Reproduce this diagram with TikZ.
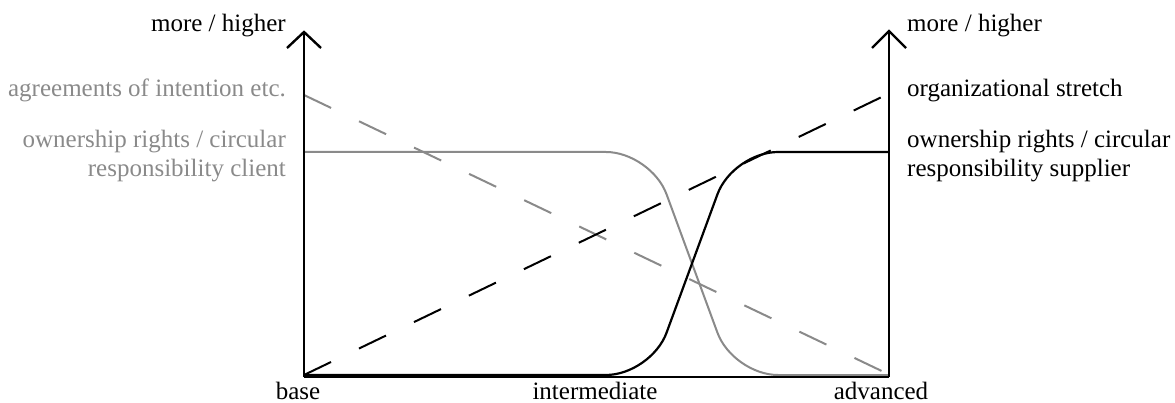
\documentclass[tikz,border=0pt]{standalone}
\usepackage{fontspec}
\setmainfont{Liberation Serif}
\definecolor{lgray}{RGB}{138,138,138}
\begin{document}
\begin{tikzpicture}[x=1pt,y=-1pt,
  lbl/.style={inner sep=0pt,font=\fontsize{25}{29}\selectfont},
  glbl/.style={lbl,text=lgray},
  axis/.style={line width=2.4pt,black},
  graycurve/.style={line width=2pt,lgray,rounded corners=45pt},
  blackcurve/.style={line width=2.2pt,black,rounded corners=45pt},
  gdash/.style={line width=2pt,lgray,dash pattern=on 30pt off 31pt},
  bdash/.style={line width=2pt,black,dash pattern=on 30pt off 31pt}]
\useasboundingbox (0,0) rectangle (1175,403);
% axes coordinates
\coordinate (O) at (304,377);
\coordinate (LT) at (304,32);
\coordinate (R) at (889,377);
\coordinate (RT) at (889,31);
% curves
\coordinate (g0) at (304,152);
\coordinate (g1) at (651,152);
\coordinate (g2) at (733,375);
\coordinate (g3) at (888,375);
\coordinate (b0) at (304,375);
\coordinate (b1) at (651,375);
\coordinate (b2) at (733,152);
\coordinate (b3) at (888,152);
\draw[gdash] (304,95) coordinate (gd0) -- (888,374) coordinate (gd1);
\draw[bdash] (304,375) coordinate (bd0) -- (888,94) coordinate (bd1);
\draw[graycurve] (g0) -- (g1) -- (g2) -- (g3);
\draw[blackcurve] (b0) -- (b1) -- (b2) -- (b3);
% axes
\draw[axis] (O) -- (LT);
\draw[axis,line join=miter] (287,48) -- (LT) -- (321,48);
\draw[axis] (O) -- (R);
\draw[axis] (R) -- (RT);
\draw[axis,line join=miter] (872,48) -- (RT) -- (906,48);
% left labels
\node[lbl,anchor=base east] (lmore) at (286,32) {more / higher};
\node[glbl,anchor=base east] (lagree) at (286,97) {agreements of intention etc.};
\node[glbl,anchor=base east] (lown1) at (286,148) {ownership rights / circular};
\node[glbl,anchor=base east] (lown2) at (286,177) {responsibility client};
% right labels
\node[lbl,anchor=base west] (rmore) at (907,32) {more / higher};
\node[lbl,anchor=base west] (rorg) at (907,97) {organizational stretch};
\node[lbl,anchor=base west] (rown1) at (907,148) {ownership rights / circular};
\node[lbl,anchor=base west] (rown2) at (907,177) {responsibility supplier};
% bottom labels
\node[lbl,anchor=base] (base) at (298,399) {base};
\node[lbl,anchor=base] (inter) at (595,399) {intermediate};
\node[lbl,anchor=base] (adv) at (881,399) {advanced};
\end{tikzpicture}
\end{document}
